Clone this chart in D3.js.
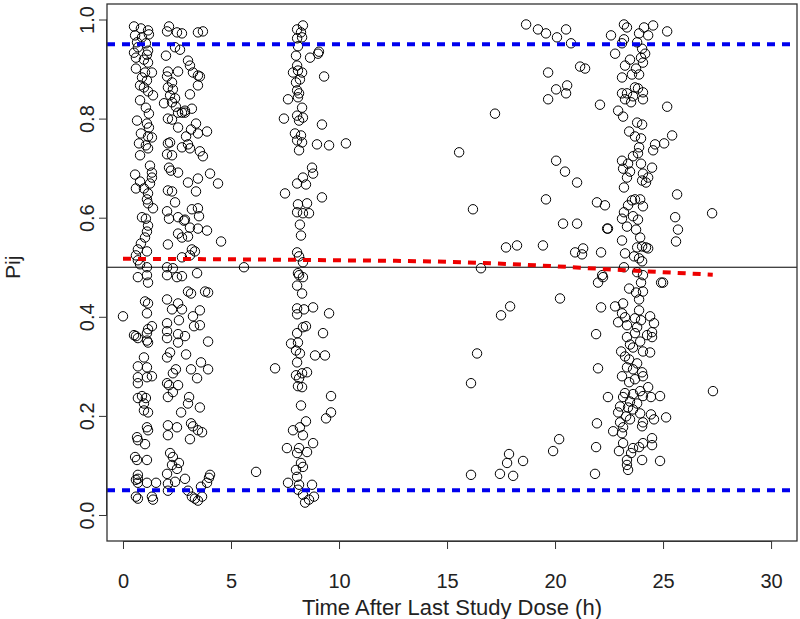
<!DOCTYPE html>
<html><head><meta charset="utf-8">
<script src="https://cdn.jsdelivr.net/npm/d3@7"></script>
<style>html,body{margin:0;padding:0;background:#fff;}svg{display:block;font-family:"Liberation Sans",Arial,sans-serif;}</style>
</head><body><div id="chart"></div>
<script>
// ---- data: [time after last dose (h), Pij] ----
const visit0to1h = [[0.51,0.986],[0.83,0.982],[1.16,0.978],[1.20,0.97],[0.56,0.968],[0.88,0.964],[0.65,0.954],[1.06,0.952],[0.69,0.944],[1.16,0.937],[0.51,0.933],[1.11,0.929],[0.60,0.923],[0.97,0.919],[1.16,0.913],[0.60,0.901],[1.02,0.893],[1.34,0.893],[0.88,0.883],[1.11,0.877],[0.79,0.867],[0.97,0.863],[1.16,0.855],[1.39,0.847],[0.79,0.837],[1.06,0.822],[1.20,0.81],[0.65,0.796],[1.11,0.79],[1.20,0.782],[0.83,0.77],[1.16,0.764],[1.34,0.762],[0.74,0.75],[1.06,0.746],[1.16,0.74],[0.79,0.726],[1.25,0.705],[1.34,0.691],[0.56,0.687],[1.34,0.681],[0.79,0.673],[1.25,0.669],[0.60,0.659],[0.97,0.659],[1.16,0.649],[1.11,0.637],[1.16,0.629],[1.39,0.619],[0.88,0.601],[1.06,0.598],[1.16,0.584],[1.11,0.572],[1.02,0.56],[0.83,0.548],[0.69,0.536],[1.11,0.532],[0.60,0.524],[0.69,0.514],[0.79,0.506],[1.11,0.50],[0.69,0.48],[1.11,0.484],[1.16,0.469],
[0.0,0.401],[1.02,0.431],[1.16,0.427],[1.11,0.407],[1.34,0.381],[1.16,0.375],[1.11,0.367],[0.60,0.361],[0.69,0.357],[1.11,0.352],[1.16,0.348],[0.51,0.363],[0.97,0.318],[0.69,0.30],[1.11,0.298],[1.34,0.28],[0.69,0.278],[1.11,0.278],[0.69,0.266],[0.88,0.24],[1.06,0.236],[0.69,0.236],[0.97,0.225],[0.97,0.211],[1.16,0.207],[1.11,0.177],[1.16,0.171],[0.65,0.157],[0.69,0.151],[1.02,0.143],[0.56,0.117],[0.65,0.111],[1.11,0.111],[0.69,0.081],[0.69,0.073],[0.60,0.071],[0.69,0.065],[1.11,0.065],[1.53,0.065],[0.60,0.037],[0.69,0.033],[1.34,0.037],[1.39,0.031]];

const visit2to3h = [[2.13,0.986],[2.04,0.976],[2.50,0.974],[2.73,0.972],[2.41,0.944],[2.64,0.939],[1.99,0.927],[2.08,0.895],[2.55,0.895],[2.04,0.885],[2.27,0.873],[2.08,0.863],[2.31,0.859],[2.18,0.847],[2.41,0.841],[2.27,0.833],[1.90,0.831],[2.45,0.824],[2.55,0.812],[2.73,0.812],[2.87,0.816],[2.08,0.80],[2.27,0.798],[2.55,0.782],[2.08,0.75],[2.18,0.752],[2.04,0.728],[2.27,0.726],[2.13,0.701],[2.22,0.695],[2.55,0.691],[2.08,0.655],[2.27,0.653],[2.41,0.631],[2.04,0.613],[2.13,0.598],[2.55,0.601],[2.82,0.594],[2.55,0.568],[2.73,0.56],[2.08,0.546],[2.04,0.50],[2.31,0.498],[2.04,0.484],[2.50,0.48],[2.73,0.482],
[2.04,0.435],[2.27,0.415],[2.55,0.427],[2.73,0.415],[2.59,0.393],[2.04,0.387],[2.04,0.371],[2.04,0.357],[2.55,0.365],[2.55,0.348],[2.87,0.361],[2.18,0.328],[2.04,0.318],[2.92,0.324],[2.45,0.294],[2.31,0.286],[2.04,0.266],[2.13,0.262],[2.55,0.262],[2.31,0.248],[2.08,0.238],[2.69,0.207],[2.08,0.181],[2.50,0.177],[2.08,0.161],[2.18,0.125],[2.31,0.117],[2.59,0.105],[2.27,0.101],[2.50,0.093],[2.04,0.083],[2.41,0.067],[2.08,0.063],[2.08,0.049],[2.87,0.073]];

const visit3to6h = [[3.47,0.974],[3.70,0.976],[3.01,0.917],[3.10,0.907],[3.24,0.893],[3.47,0.887],[3.56,0.885],[3.47,0.867],[3.10,0.849],[3.19,0.82],[2.87,0.812],[3.38,0.79],[3.15,0.778],[3.47,0.77],[3.89,0.774],[2.92,0.764],[2.73,0.742],[3.01,0.748],[3.10,0.74],[3.56,0.734],[3.70,0.724],[4.03,0.689],[4.40,0.669],[3.47,0.679],[3.01,0.671],[3.38,0.653],[3.19,0.617],[3.47,0.619],[3.52,0.603],[2.87,0.596],[3.10,0.58],[3.47,0.578],[3.89,0.574],[4.54,0.552],[3.01,0.562],[3.19,0.536],[3.33,0.532],[3.10,0.524],[2.73,0.52],[5.60,0.50],
[3.43,0.488],[3.01,0.451],[3.15,0.447],[3.80,0.451],[3.94,0.449],[3.56,0.413],[3.24,0.401],[3.29,0.381],[3.56,0.383],[3.94,0.35],[3.15,0.294],[3.61,0.308],[3.94,0.294],[3.43,0.276],[3.06,0.238],[3.01,0.225],[3.56,0.217],[3.15,0.185],[3.24,0.179],[3.47,0.171],[3.66,0.167],[3.10,0.153],[4.03,0.081],[3.98,0.075],[3.89,0.065],[3.61,0.057],[3.19,0.037],[3.33,0.033],[3.47,0.029],[3.66,0.037],[3.01,0.049],[6.16,0.087]];

const visit8h = [[8.33,0.988],[8.06,0.98],[8.24,0.974],[8.06,0.962],[8.29,0.964],[8.10,0.946],[9.07,0.935],[9.03,0.931],[8.66,0.923],[8.01,0.927],[8.06,0.907],[8.10,0.897],[7.87,0.893],[8.29,0.893],[8.19,0.879],[9.31,0.885],[8.01,0.873],[8.06,0.857],[8.15,0.851],[7.64,0.839],[8.10,0.843],[8.29,0.822],[8.06,0.806],[7.45,0.80],[8.33,0.802],[8.15,0.796],[9.21,0.788],[7.96,0.77],[8.24,0.766],[8.06,0.756],[8.29,0.752],[8.98,0.748],[9.54,0.746],[10.32,0.75],[8.15,0.736],[8.75,0.701],[8.80,0.689],[8.33,0.681],[8.06,0.669],[8.47,0.667],[7.50,0.649],[9.21,0.641],[8.10,0.627],[8.52,0.629],[8.06,0.611],[8.33,0.609],[8.61,0.609],[8.19,0.586],[8.24,0.564],[8.06,0.53],[8.15,0.522],[8.33,0.51],[8.10,0.488],
[8.15,0.484],[8.33,0.48],[8.06,0.463],[8.29,0.447],[8.06,0.417],[8.06,0.405],[8.38,0.415],[8.80,0.419],[9.54,0.407],[8.33,0.379],[8.47,0.381],[8.06,0.367],[9.26,0.367],[7.78,0.346],[8.10,0.348],[8.01,0.332],[8.19,0.326],[8.89,0.322],[9.35,0.322],[8.06,0.308],[7.04,0.296],[8.01,0.282],[8.29,0.286],[8.52,0.288],[8.15,0.276],[8.10,0.26],[8.29,0.258],[9.63,0.24],[8.24,0.221],[9.63,0.207],[9.40,0.195],[8.47,0.189],[8.19,0.177],[7.87,0.171],[8.33,0.161],[7.59,0.135],[8.15,0.135],[8.06,0.125],[8.52,0.127],[8.80,0.145],[8.24,0.105],[8.33,0.097],[8.01,0.091],[8.06,0.077],[7.64,0.065],[8.15,0.061],[8.75,0.061],[8.10,0.051],[8.33,0.041],[8.84,0.037],[8.61,0.031],[8.43,0.025]];

const visitOther = [[18.66,0.99],[19.21,0.98],[19.58,0.972],[20.51,0.98],[20.09,0.964],[20.74,0.952],[21.16,0.905],[21.39,0.901],[19.68,0.893],[20.56,0.867],[20.05,0.859],[20.51,0.851],[19.68,0.839],[22.08,0.828],[17.22,0.81],[15.56,0.732],[20.05,0.715],[20.46,0.693],[21.02,0.671],[19.58,0.637],[21.94,0.631],[22.31,0.625],[16.20,0.617],[20.37,0.588],[21.02,0.588],[22.41,0.578],[17.73,0.54],[18.24,0.544],[19.44,0.544],[20.93,0.53],[21.25,0.526],[21.30,0.538],[22.13,0.53],[16.57,0.498],[22.18,0.484],[22.22,0.48],[21.99,0.469],[20.23,0.437],[17.92,0.421],[17.5,0.403],[22.13,0.419],[21.90,0.365],[16.39,0.326],[21.99,0.296],[16.11,0.266],[22.45,0.238],[21.94,0.185],[20.19,0.153],[19.91,0.129],[17.87,0.123],[17.78,0.105],[18.52,0.109],[21.90,0.137],[16.11,0.081],[17.45,0.083],[18.06,0.079],[21.85,0.083],[27.31,0.25],[27.27,0.609]];

const visit24h = [[23.19,0.99],[23.33,0.984],[24.12,0.984],[24.54,0.988],[25.19,0.976],[22.59,0.968],[23.89,0.972],[24.31,0.968],[23.19,0.96],[23.10,0.952],[23.80,0.954],[22.78,0.931],[24.03,0.941],[24.17,0.931],[23.98,0.923],[23.47,0.919],[24.07,0.913],[23.24,0.907],[23.75,0.901],[23.56,0.889],[23.89,0.889],[23.10,0.883],[23.70,0.863],[23.84,0.861],[23.10,0.851],[23.33,0.851],[24.07,0.853],[23.61,0.845],[23.24,0.839],[24.07,0.839],[23.52,0.833],[25.19,0.824],[22.92,0.816],[23.15,0.804],[23.80,0.792],[24.03,0.788],[23.43,0.774],[23.70,0.764],[23.98,0.76],[23.89,0.742],[25.42,0.766],[25.05,0.75],[24.63,0.748],[24.54,0.736],[23.84,0.73],[23.61,0.724],[23.10,0.715],[23.38,0.709],[23.98,0.709],[23.15,0.699],[23.47,0.693],[24.49,0.701],[23.33,0.681],[24.07,0.689],[24.31,0.681],[24.03,0.675],[24.21,0.671],[23.19,0.661],[25.65,0.647],[23.56,0.635],[23.70,0.637],[23.38,0.625],[23.94,0.637],[24.07,0.623],[23.19,0.611],[23.61,0.603],[23.84,0.596],[23.10,0.598],[25.56,0.601],[22.45,0.578],[23.33,0.582],[23.75,0.576],[25.69,0.576],[23.94,0.56],[23.10,0.554],[25.60,0.552],[23.80,0.54],[24.03,0.542],[24.21,0.54],[24.31,0.538],[23.24,0.528],[23.66,0.522],[23.89,0.518],[24.03,0.512],[23.19,0.50],[23.80,0.49],[24.07,0.484],
[23.98,0.469],[24.91,0.469],[25.0,0.469],[23.43,0.457],[23.75,0.449],[24.07,0.451],[23.89,0.435],[22.78,0.421],[23.15,0.427],[23.89,0.413],[23.10,0.407],[23.24,0.399],[22.92,0.389],[24.40,0.401],[23.70,0.397],[23.98,0.393],[24.58,0.387],[23.33,0.383],[23.80,0.379],[23.70,0.367],[24.49,0.369],[24.26,0.363],[24.49,0.359],[23.33,0.359],[23.94,0.35],[23.47,0.344],[23.61,0.338],[23.06,0.33],[24.07,0.33],[24.40,0.328],[23.24,0.32],[23.43,0.314],[23.80,0.306],[23.33,0.298],[23.61,0.294],[24.03,0.288],[24.07,0.28],[23.10,0.28],[23.70,0.274],[23.43,0.268],[24.31,0.258],[23.94,0.25],[23.24,0.246],[23.61,0.244],[23.15,0.238],[24.07,0.24],[24.44,0.238],[24.86,0.24],[23.47,0.229],[23.80,0.225],[23.01,0.219],[23.38,0.217],[23.61,0.213],[22.92,0.207],[23.94,0.205],[23.29,0.199],[24.44,0.203],[23.47,0.193],[23.01,0.187],[24.07,0.187],[24.58,0.193],[25.14,0.197],[23.15,0.177],[24.03,0.179],[22.69,0.169],[23.10,0.165],[24.49,0.155],[24.07,0.145],[23.89,0.137],[23.61,0.135],[23.15,0.145],[22.96,0.129],[24.49,0.141],[23.52,0.125],[23.33,0.111],[24.03,0.111],[24.86,0.109],[23.33,0.101],[23.38,0.091]];

// smoothed trend (red dashed)
const trendLine = [[0,0.517],[5,0.516],[10,0.514],[15,0.511],[20,0.502],[22,0.497],[25,0.49],[27.3,0.485]];
// reference lines
const refMid = 0.5;
const refBounds = [0.05, 0.95];
// axes
const xTicks = [0,5,10,15,20,25,30];
const yTicks = [0,0.2,0.4,0.6,0.8,1.0];
const xTitle = "Time After Last Study Dose (h)";
const yTitle = "Pij";

const W = 800, H = 619;
const L = 107, R = 797, T = 4, B = 541;
const x = d3.scaleLinear().domain([-0.74, 31.2]).range([L, R]);
const y = d3.scaleLinear().domain([-0.0525, 1.0313]).range([B, T]);
const FONT = "'Liberation Sans',Arial,sans-serif";

const svg = d3.select("#chart").append("svg").attr("width", W).attr("height", H);
svg.append("defs").append("clipPath").attr("id","clip").append("rect")
  .attr("x", L).attr("y", T).attr("width", R-L).attr("height", B-T);

const plot = svg.append("g").attr("clip-path","url(#clip)");
const allPts = [].concat(visit0to1h, visit2to3h, visit3to6h, visit8h, visitOther, visit24h);
plot.selectAll("circle").data(allPts).enter().append("circle")
  .attr("cx", d => x(d[0])).attr("cy", d => y(d[1])).attr("r", 4.7)
  .attr("fill","none").attr("stroke","#000").attr("stroke-width",1);

plot.append("line").attr("x1",L).attr("x2",R).attr("y1",y(refMid)).attr("y2",y(refMid))
  .attr("stroke","#000").attr("stroke-width",1);
refBounds.forEach(v => plot.append("line").attr("x1",L).attr("x2",R).attr("y1",y(v)).attr("y2",y(v))
  .attr("stroke","#0000ee").attr("stroke-width",4).attr("stroke-dasharray","8,7"));
plot.append("path").datum(trendLine)
  .attr("d", d3.line().x(d=>x(d[0])).y(d=>y(d[1])).curve(d3.curveMonotoneX))
  .attr("fill","none").attr("stroke","#ee0000").attr("stroke-width",4).attr("stroke-dasharray","8,7");

// box
svg.append("rect").attr("x",L).attr("y",T).attr("width",R-L).attr("height",B-T)
  .attr("fill","none").attr("stroke","#333").attr("stroke-width",1.3);

// x axis
const xa = svg.append("g").attr("transform",`translate(0,${B})`)
  .call(d3.axisBottom(x).tickValues(xTicks).tickSize(8).tickFormat(d3.format("d")));
xa.select(".domain").attr("d", `M${x(0)},0.5H${x(30)}`).attr("stroke","#333");
xa.selectAll(".tick line").attr("stroke","#333");
xa.selectAll("text").attr("font-size",20).attr("fill","#222").attr("y",40).attr("dy",null)
  .attr("dominant-baseline","central").attr("font-family",FONT);

// y axis
const ya = svg.append("g").attr("transform",`translate(${L},0)`)
  .call(d3.axisLeft(y).tickValues(yTicks).tickSize(8).tickFormat(d3.format(".1f")));
ya.select(".domain").attr("d", `M-0.5,${y(0)}V${y(1)}`).attr("stroke","#333");
ya.selectAll(".tick line").attr("stroke","#333");
ya.selectAll(".tick text").attr("font-size",20).attr("fill","#222").attr("font-family",FONT)
  .attr("x",null).attr("dy",null)
  .attr("transform","translate(-20,0) rotate(-90)").attr("text-anchor","middle").attr("dominant-baseline","central");

svg.append("text").attr("x",(L+R)/2).attr("y",607).attr("text-anchor","middle").attr("dominant-baseline","central")
  .attr("font-size",22).attr("fill","#222").attr("font-family",FONT).text(xTitle);
svg.append("text").attr("transform",`translate(12,${y(0.5)}) rotate(-90)`).attr("text-anchor","middle")
  .attr("dominant-baseline","central").attr("font-size",21).attr("fill","#222").attr("font-family",FONT).text(yTitle);
</script></body></html>
